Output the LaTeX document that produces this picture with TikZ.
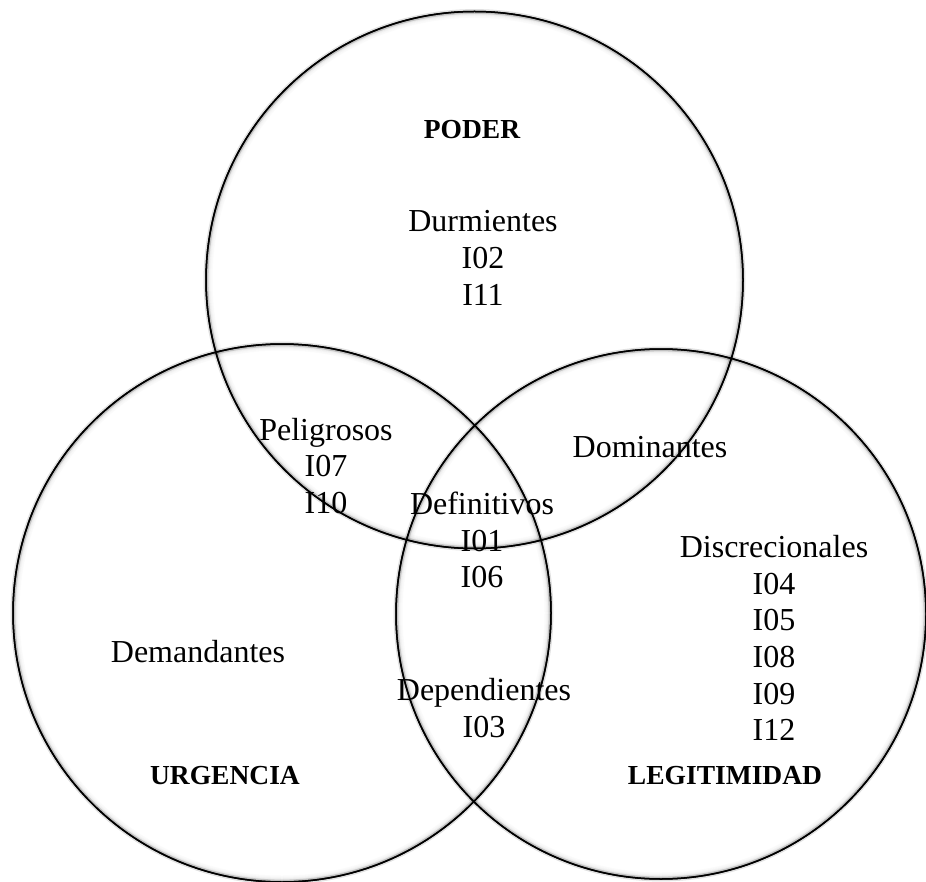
\documentclass[tikz,border=0pt]{standalone}
\usepackage{fontspec}
\setmainfont{Liberation Serif}
\begin{document}
\begin{tikzpicture}[x=0.5pt,y=-0.5pt,
  ring/.style={circle, draw=black, line width=0.75pt, inner sep=0pt},
  halo/.style={draw=black, opacity=0.12, line width=2.4pt},
  lbl/.style={align=center, font=\fontsize{16}{18.35}\selectfont, inner sep=0pt},
  ttl/.style={font=\fontsize{13.75}{16}\selectfont\bfseries, inner sep=0pt}]
\useasboundingbox (0,0) rectangle (926,882);

% the three sets
\node[ring, minimum size=268.5pt] (poder) at (474.5,280) {};
\node[ring, minimum size=269pt] (urgencia) at (282,613) {};
\node[ring, minimum size=265pt] (legitimidad) at (661,614) {};

% soft shading along each outline
\foreach \c/\r in {poder/134.25pt,urgencia/134.5pt,legitimidad/132.5pt}{
  \draw[halo] (\c.center) circle[radius=\r];
  \foreach \k/\o in {1/0.16,2/0.11,3/0.07,4/0.045,5/0.025,6/0.015}
    \draw[black, opacity=\o, line width=0.5pt] (\c.center) circle[radius=\r-\k*0.5pt];
  \draw[black, line width=0.75pt] (\c.center) circle[radius=\r];
}

% set titles
\node[ttl] (tpoder) at (472,130) {PODER};
\node[ttl] (turg) at (225,776) {URGENCIA};
\node[ttl] (tleg) at (725,776) {LEGITIMIDAD};

% regions
\node[lbl] (durm) at (483,258) {Durmientes\\I02\\I11};
\node[lbl] (pelig) at (326,466) {Peligrosos\\I07\\I10};
\node[lbl] (domin) at (650,447) {Dominantes};
\node[lbl] (defin) at (482,540) {Definitivos\\I01\\I06};
\node[lbl] (discr) at (774,638) {Discrecionales\\I04\\I05\\I08\\I09\\I12};
\node[lbl] (deman) at (198,652) {Demandantes};
\node[lbl] (depen) at (484,708) {Dependientes\\I03};
\end{tikzpicture}
\end{document}
